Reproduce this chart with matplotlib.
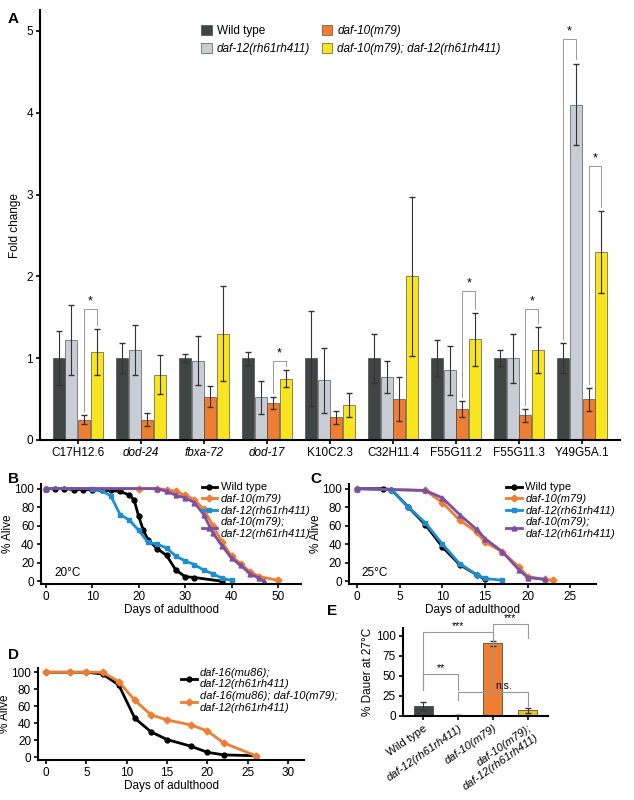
import matplotlib.pyplot as plt
import numpy as np

plt.rcParams["font.family"] = ["Liberation Sans", "DejaVu Sans"]
plt.rcParams["font.size"] = 8

# Panel A: fold change
genes = ["C17H12.6", "dod-24", "fbxa-72", "dod-17", "K10C2.3", "C32H11.4",
         "F55G11.2", "F55G11.3", "Y49G5A.1"]
gene_italic = [False, True, True, True, False, False, False, False, False]
a_labels = ["Wild type", "daf-12(rh61rh411)", "daf-10(m79)", "daf-10(m79); daf-12(rh61rh411)"]
a_wt = [1.0, 1.0, 1.0, 1.0, 1.0, 1.0, 1.0, 1.0, 1.0]
a_wt_err = [0.33, 0.18, 0.05, 0.08, 0.58, 0.3, 0.22, 0.1, 0.18]
a_d12 = [1.22, 1.1, 0.97, 0.52, 0.73, 0.77, 0.85, 1.0, 4.1]
a_d12_err = [0.43, 0.3, 0.3, 0.2, 0.4, 0.2, 0.3, 0.3, 0.5]
a_d10 = [0.25, 0.25, 0.53, 0.45, 0.28, 0.5, 0.38, 0.3, 0.5]
a_d10_err = [0.06, 0.08, 0.13, 0.07, 0.08, 0.27, 0.1, 0.08, 0.14]
a_dbl = [1.08, 0.8, 1.3, 0.75, 0.43, 2.0, 1.23, 1.1, 2.3]
a_dbl_err = [0.28, 0.24, 0.58, 0.1, 0.15, 0.97, 0.32, 0.28, 0.5]
# (gene index, series i, series j, bracket height)
a_sig = [(0, 2, 3, 1.6), (3, 2, 3, 0.97), (6, 2, 3, 1.82), (7, 2, 3, 1.6),
         (8, 0, 1, 4.9), (8, 2, 3, 3.35)]

# Panel B: 20C survival
b_wt_d = [0, 2, 4, 6, 8, 10, 12, 14, 16, 18, 19, 20, 21, 22, 24, 26, 28, 30, 32, 38]
b_wt_v = [100, 100, 100, 99, 99, 99, 98, 98, 97, 93, 88, 70, 55, 45, 35, 28, 12, 5, 4, 0]
b_d10_d = [0, 20, 24, 26, 28, 30, 32, 34, 36, 38, 40, 42, 44, 46, 50]
b_d10_v = [100, 100, 100, 99, 97, 93, 88, 78, 60, 42, 27, 19, 10, 5, 1]
b_d12_d = [0, 10, 12, 14, 16, 18, 20, 22, 24, 26, 28, 30, 32, 34, 36, 38, 40]
b_d12_v = [100, 100, 98, 92, 72, 66, 55, 42, 40, 36, 27, 22, 18, 12, 8, 3, 1]
b_dbl_d = [0, 24, 26, 28, 30, 32, 34, 36, 38, 40, 42, 44, 46, 47]
b_dbl_v = [100, 100, 97, 93, 90, 85, 72, 52, 38, 25, 17, 8, 3, 0]

# Panel C: 25C survival
c_wt_d = [0, 3, 4, 6, 8, 10, 12, 14, 15]
c_wt_v = [100, 100, 99, 80, 61, 37, 18, 7, 2]
c_d10_d = [0, 8, 10, 12, 14, 15, 17, 19, 20, 22, 23]
c_d10_v = [100, 98, 85, 66, 53, 42, 32, 15, 5, 2, 1]
c_d12_d = [0, 4, 6, 8, 10, 12, 14, 15, 17]
c_d12_v = [100, 99, 80, 63, 40, 19, 7, 3, 1]
c_dbl_d = [0, 8, 10, 12, 14, 15, 17, 19, 20, 22]
c_dbl_v = [100, 98, 90, 72, 56, 46, 32, 12, 4, 2]

# Panel D
d_a_d = [0, 3, 5, 7, 9, 11, 13, 15, 18, 20, 22, 26]
d_a_v = [100, 100, 100, 98, 85, 46, 30, 21, 13, 6, 3, 2]
d_b_d = [0, 3, 5, 7, 9, 11, 13, 15, 18, 20, 22, 26]
d_b_v = [100, 100, 100, 100, 89, 67, 50, 44, 38, 31, 17, 2]

# Panel E
e_labels = ["Wild type", "daf-12(rh61rh411)", "daf-10(m79)", "daf-10(m79);\ndaf-12(rh61rh411)"]
e_vals = [13, 1, 91, 7]
e_errs = [5, 0.3, 3, 3]

C_WT, C_D12, C_D10, C_DBL = "#3f4444", "#c8ccd4", "#f07e32", "#f9e51e"
C_BLUE, C_PURP = "#1b8fcf", "#7a4fa6"

fig = plt.figure(figsize=(6.34, 8.0), dpi=100)


def style(ax):
    for s in ("top", "right"):
        ax.spines[s].set_visible(False)
    for s in ("left", "bottom"):
        ax.spines[s].set_linewidth(1.5)
    ax.tick_params(width=1.2, length=3, labelsize=8.5, pad=2)


# ---- A
ax = fig.add_axes([0.063, 0.45, 0.915, 0.537])
style(ax)
x = np.arange(len(genes))
w = 0.2
series = [(a_wt, a_wt_err, C_WT), (a_d12, a_d12_err, C_D12),
          (a_d10, a_d10_err, C_D10), (a_dbl, a_dbl_err, C_DBL)]
offs = [-1.5 * w, -0.5 * w, 0.5 * w, 1.5 * w]
for (v, e, c), o, lab in zip(series, offs, a_labels):
    ax.bar(x + o, v, w * 0.95, yerr=e, color=c, edgecolor="#333333", linewidth=0.4,
           error_kw=dict(ecolor="#333333", elinewidth=0.8, capsize=2), label=lab)
tops = [[v + e for v, e in zip(s[0], s[1])] for s in series]
for g, i, j, h in a_sig:
    xi, xj = g + offs[i], g + offs[j]
    ax.plot([xi, xi, xj, xj], [tops[i][g] + 0.05, h, h, tops[j][g] + 0.05],
            color="#999999", lw=0.7)
    ax.text((xi + xj) / 2, h + 0.02, "*", ha="center", va="bottom", fontsize=9)
ax.set_xlim(-0.6, 8.6)
ax.set_ylim(0, 5.25)
ax.set_xticks(x)
ax.set_xticklabels(genes, fontsize=8.5)
for t, it in zip(ax.get_xticklabels(), gene_italic):
    if it:
        t.set_style("italic")
ax.set_yticks([0, 1, 2, 3, 4, 5])
ax.set_ylabel("Fold change", fontsize=8.5)
h, l = ax.get_legend_handles_labels()
leg = ax.legend(h, l, ncol=2, loc="upper left", bbox_to_anchor=(0.26, 0.99),
                frameon=False, fontsize=8.5, handlelength=0.9, handleheight=0.9,
                columnspacing=1.0, handletextpad=0.4)
for t in leg.get_texts()[1:]:
    t.set_style("italic")
fig.text(0.012, 0.985, "A", fontsize=11, fontweight="bold", va="top")


def survival(rect, curves, xlim, xticks, temp=None, leg_anchor=(0.6, 1.02)):
    ax = fig.add_axes(rect)
    style(ax)
    for d, v, c, m, lab in curves:
        ax.plot(d, v, color=c, marker=m, ms=3.5, lw=2, label=lab)
    ax.set_xlim(*xlim)
    ax.set_ylim(-3, 105)
    ax.set_xticks(xticks)
    ax.set_yticks([0, 20, 40, 60, 80, 100])
    ax.set_xlabel("Days of adulthood", fontsize=8.5, labelpad=1)
    ax.set_ylabel("% Alive", fontsize=8.5, labelpad=0)
    if temp:
        ax.text(0.05, 0.08, temp, transform=ax.transAxes, fontsize=8.5)
    leg = ax.legend(loc="upper left", bbox_to_anchor=leg_anchor, frameon=False,
                    fontsize=8, handlelength=1.4, labelspacing=0.15,
                    borderaxespad=0, handletextpad=0.3)
    for t in leg.get_texts():
        if t.get_text() != "Wild type":
            t.set_style("italic")
    return ax


dbl_lab = "daf-10(m79);\ndaf-12(rh61rh411)"
survival([0.065, 0.27, 0.41, 0.125],
         [(b_wt_d, b_wt_v, "black", "o", "Wild type"),
          (b_d10_d, b_d10_v, C_D10, "D", "daf-10(m79)"),
          (b_d12_d, b_d12_v, C_BLUE, "s", "daf-12(rh61rh411)"),
          (b_dbl_d, b_dbl_v, C_PURP, "^", dbl_lab)],
         (-1, 55), [0, 10, 20, 30, 40, 50], "20°C", (0.6, 1.06))
fig.text(0.012, 0.41, "B", fontsize=11, fontweight="bold", va="top")
survival([0.55, 0.27, 0.39, 0.125],
         [(c_wt_d, c_wt_v, "black", "o", "Wild type"),
          (c_d10_d, c_d10_v, C_D10, "D", "daf-10(m79)"),
          (c_d12_d, c_d12_v, C_BLUE, "s", "daf-12(rh61rh411)"),
          (c_dbl_d, c_dbl_v, C_PURP, "^", dbl_lab)],
         (-1, 28), [0, 5, 10, 15, 20, 25], "25°C", (0.62, 1.06))
fig.text(0.49, 0.41, "C", fontsize=11, fontweight="bold", va="top")
survival([0.06, 0.05, 0.42, 0.115],
         [(d_a_d, d_a_v, "black", "o", "daf-16(mu86);\ndaf-12(rh61rh411)"),
          (d_b_d, d_b_v, C_D10, "D", "daf-16(mu86); daf-10(m79);\ndaf-12(rh61rh411)")],
         (-1, 32), [0, 5, 10, 15, 20, 25, 30], None, (0.52, 1.05))
fig.text(0.012, 0.19, "D", fontsize=11, fontweight="bold", va="top")

# ---- E
ax = fig.add_axes([0.635, 0.105, 0.23, 0.11])
style(ax)
ex = np.arange(len(e_vals))
ax.bar(ex, e_vals, 0.55, yerr=e_errs, color=[C_WT, C_D12, C_D10, "#f2c21f"],
       edgecolor="#333333", linewidth=0.5,
       error_kw=dict(ecolor="#333333", elinewidth=0.8, capsize=2))
ax.set_xlim(-0.6, 3.6)
ax.set_ylim(0, 110)
ax.set_yticks([0, 25, 50, 75, 100])
ax.set_xticks(ex)
ax.set_xticklabels(e_labels, rotation=35, ha="right", rotation_mode="anchor",
                   fontsize=8)
for t in ax.get_xticklabels()[1:]:
    t.set_style("italic")
ax.set_ylabel("% Dauer at 27°C", fontsize=8.5, labelpad=1)
brk = [(0, 2, 33, 105, "***"), (2, 3, 97, 115, "***"), (0, 1, 33, 52, "**"),
       (1, 3, 20, 30, "n.s.")]
for i, j, lo, hi, s in brk:
    ax.plot([ex[i], ex[i], ex[j], ex[j]], [lo, hi, hi, 12 if s == "n.s." else lo],
            color="#999999", lw=0.8, clip_on=False)
    ax.text((ex[i] + ex[j]) / 2 + (0.3 if s == "n.s." else 0), hi + 1.5, s,
            ha="center", va="bottom", fontsize=7.5)
fig.text(0.515, 0.245, "E", fontsize=11, fontweight="bold", va="top")

fig.savefig("out.png", dpi=100)
